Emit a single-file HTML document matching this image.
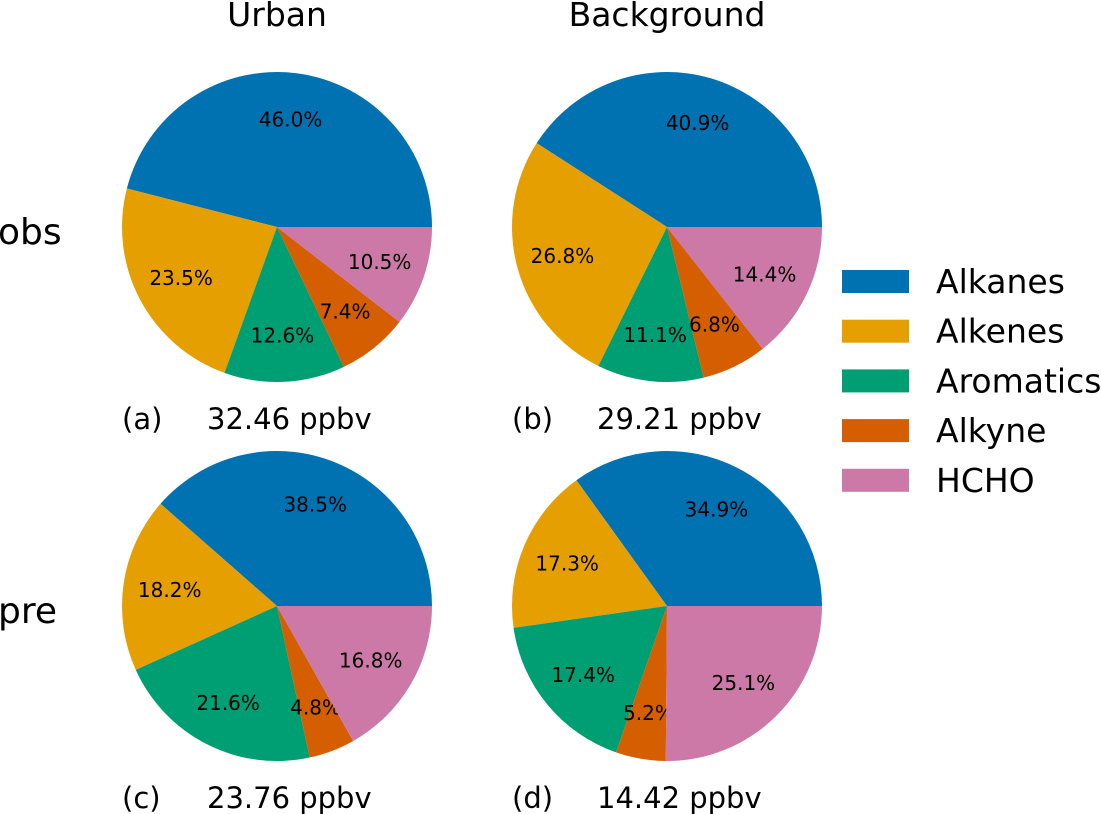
<!DOCTYPE html>
<html><head><meta charset="utf-8"><style>
body{margin:0;background:#fff;}
svg{display:block;font-family:"DejaVu Sans","Liberation Sans",sans-serif;}
</style></head><body>
<svg id="chart" width="1101" height="814" viewBox="0 0 1101 814">
<text x="277" y="26" font-size="33" text-anchor="middle">Urban</text>
<text x="667" y="26" font-size="33" text-anchor="middle">Background</text>
<text x="-2" y="244" font-size="36">obs</text>
<text x="-2" y="623" font-size="36">pre</text>
<g id="pies"></g>
<g id="legend"></g>
</svg>
<script>
const categories = ["Alkanes","Alkenes","Aromatics","Alkyne","HCHO"];
const colors = ["#0072b2","#e69f00","#009e73","#d55e00","#cc79a7"];
const urbanObs = [46.0,23.5,12.6,7.4,10.5];
const bgObs = [40.9,26.8,11.1,6.8,14.4];
const urbanPre = [38.5,18.2,21.6,4.8,16.8];
const bgPre = [34.9,17.3,17.4,5.2,25.1];
const panelLetters = ["(a)","(b)","(c)","(d)"];
const totals = ["32.46 ppbv","29.21 ppbv","23.76 ppbv","14.42 ppbv"];
const series = [urbanObs,bgObs,urbanPre,bgPre];

const NS="http://www.w3.org/2000/svg";
const pies=document.getElementById('pies');
const centers=[[277,227],[667,227],[277,606],[667,606]];
const R=155;
function mk(t,a){const e=document.createElementNS(NS,t);for(const k in a)e.setAttribute(k,a[k]);return e;}
series.forEach((vals,p)=>{
  const [cx,cy]=centers[p];
  const sum=vals.reduce((a,b)=>a+b,0);
  let a0=0;
  const g=mk('g',{});
  
  
  pies.appendChild(g);
  vals.forEach((v,i)=>{
    const a1=a0+v/sum*2*Math.PI;
    const x0=cx+R*Math.cos(a0),y0=cy-R*Math.sin(a0);
    const x1=cx+R*Math.cos(a1),y1=cy-R*Math.sin(a1);
    const large=(a1-a0)>Math.PI?1:0;
    const path=mk('path',{d:`M${cx},${cy}L${x0},${y0}A${R},${R} 0 ${large} 0 ${x1},${y1}Z`,fill:colors[i]});
    
    
    g.appendChild(path);
    const am=(a0+a1)/2;
    const t=mk('text',{x:cx+0.7*R*Math.cos(am),y:cy-0.7*R*Math.sin(am)+7,'font-size':20,'text-anchor':'middle'});
    t.textContent=v.toFixed(1)+'%';
    
    
    g.appendChild(t);
    a0=a1;
  });
  const l=mk('text',{x:cx-155,y:cy+202,'font-size':29});
  l.textContent=panelLetters[p];
  
  
  g.appendChild(l);
  const tt=mk('text',{x:cx-70,y:cy+202,'font-size':29});
  tt.textContent=totals[p];
  
  
  g.appendChild(tt);
});
const lg=document.getElementById('legend');


categories.forEach((c,i)=>{
  const y=281+i*49.7;
  const r=mk('rect',{x:842,y:y-11,width:67,height:23,fill:colors[i]});
  
  
  lg.appendChild(r);
  const t=mk('text',{x:936,y:y+12,'font-size':33});
  t.textContent=c;
  
  
  lg.appendChild(t);
});
</script>
</body></html>
